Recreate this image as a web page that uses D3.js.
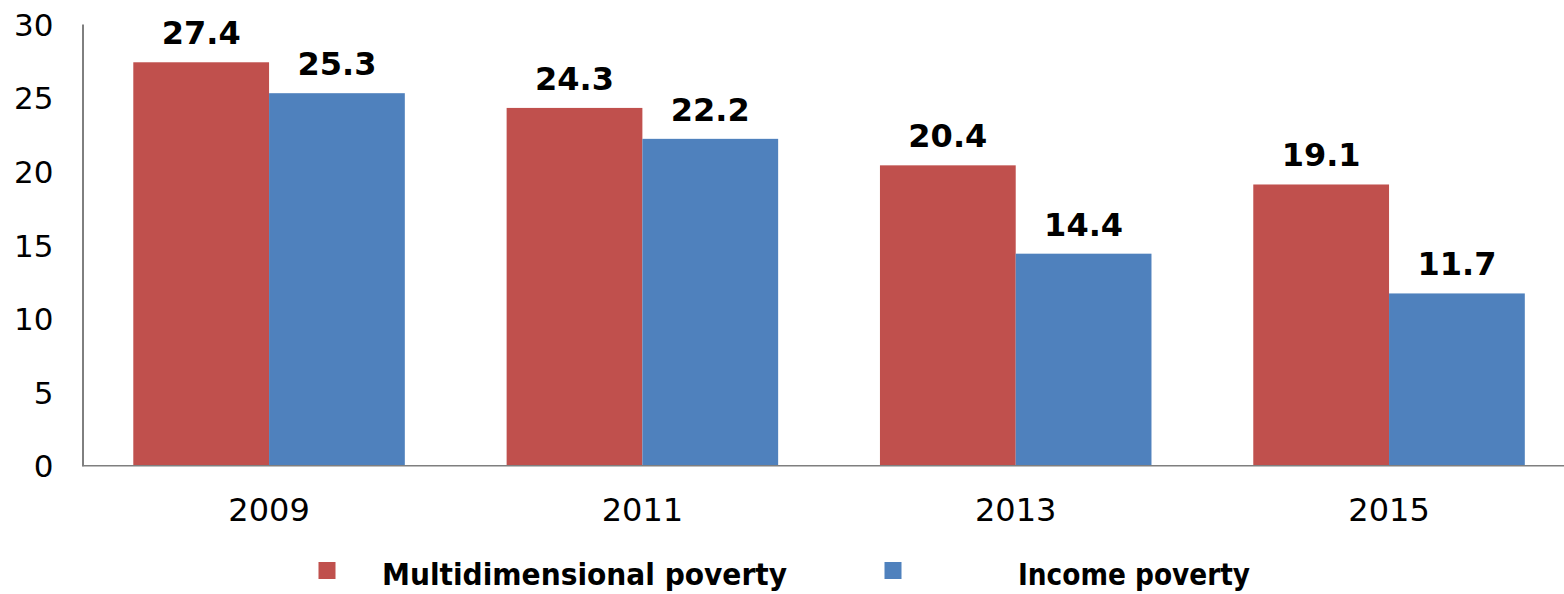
<!DOCTYPE html>
<html>
<head>
<meta charset="utf-8">
<script src="https://cdn.jsdelivr.net/npm/d3@7"></script>
<style>
  html, body { margin: 0; padding: 0; background: #fff; }
  svg { display: block; }
</style>
</head>
<body>
<svg id="chart" width="1564" height="594"></svg>
<script>
const years = ["2009", "2011", "2013", "2015"];
const seriesNames = ["Multidimensional poverty", "Income poverty"];
const multidimensional = [27.4, 24.3, 20.4, 19.1];
const income = [25.3, 22.2, 14.4, 11.7];
const yTicks = [0, 5, 10, 15, 20, 25, 30];
const colors = ["#C0504D", "#4F81BD"];

const svg = d3.select("#chart");
const W = 1564, H = 594;

const x = d3.scaleBand().domain(years).range([82.3, 1575.8])
  .paddingInner(0.2727).paddingOuter(0.1366);
const xs = d3.scaleBand().domain(seriesNames).range([0, x.bandwidth()]);
const y = d3.scaleLinear().domain([0, 30]).range([465.7, 24]);

const rows = years.map((yr, i) => ({ year: yr, values: [multidimensional[i], income[i]] }));

// bars
const g = svg.append("g");
rows.forEach(r => {
  r.values.forEach((v, j) => {
    const x0 = x(r.year) + xs(seriesNames[j]);
    g.append("rect")
      .attr("x", x0)
      .attr("y", y(v))
      .attr("width", xs.bandwidth())
      .attr("height", y(0) - y(v))
      .attr("fill", colors[j]);
    g.append("text")
      .attr("x", x0 + xs.bandwidth() / 2)
      .attr("y", y(v) - 18)
      .attr("text-anchor", "middle")
      .attr("font-family", "'DejaVu Sans', Verdana, sans-serif")
      .attr("font-weight", "bold")
      .attr("font-size", 32)
      .attr("fill", "#000")
      .text(v.toFixed(1));
  });
});

// y axis
const yAxis = d3.axisLeft(y).tickValues(yTicks).tickSize(0).tickPadding(0);
const ya = svg.append("g").attr("transform", "translate(82.5,0)").call(yAxis);
ya.select(".domain").attr("stroke", "#000").attr("stroke-width", 1);
ya.selectAll("text")
  .attr("x", -29)
  .attr("dy", "0.36em")
  .attr("font-family", "'DejaVu Sans', Verdana, sans-serif")
  .attr("font-size", 31)
  .attr("fill", "#000");

// x axis
const xAxis = d3.axisBottom(x).tickSize(0).tickPadding(0);
const xa = svg.append("g").attr("transform", "translate(0,465.7)").call(xAxis);
xa.select(".domain").remove();
xa.append("line").attr("x1", 82).attr("x2", W).attr("y1", 0).attr("y2", 0)
  .attr("stroke", "#7f7f7f").attr("stroke-width", 1.5);
xa.selectAll(".tick text")
  .attr("y", 55)
  .attr("dy", 0)
  .attr("font-family", "'DejaVu Sans', Verdana, sans-serif")
  .attr("font-size", 32)
  .attr("fill", "#000");

// legend
const legend = [
  { name: seriesNames[0], sx: 318.5, tx: 382, tl: 405 },
  { name: seriesNames[1], sx: 884.5, tx: 1018, tl: 232 }
];
legend.forEach((l, i) => {
  svg.append("rect").attr("x", l.sx).attr("y", 562).attr("width", 17).attr("height", 17)
    .attr("fill", colors[i]);
  svg.append("text").attr("x", l.tx).attr("y", 585)
    .attr("font-family", "'DejaVu Sans Condensed', 'DejaVu Sans', sans-serif")
    .attr("font-weight", "bold")
    .attr("font-size", 30)
    .attr("textLength", l.tl)
    .attr("lengthAdjust", "spacingAndGlyphs")
    .attr("fill", "#000")
    .text(l.name);
});
</script>
</body>
</html>
